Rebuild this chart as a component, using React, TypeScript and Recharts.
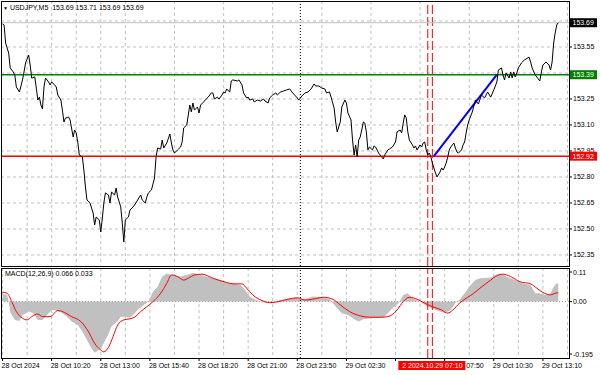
import React from 'react';
import { ComposedChart, Line, Area, XAxis, YAxis, CartesianGrid, ReferenceLine } from 'recharts';

// M5 bars counted from the first visible bar (28 Oct, left edge)
const priceSeries: [number, number][] = [
  [0, 153.683], [1, 153.677], [2, 153.573], [4, 153.515], [5, 153.429], [7, 153.406], [8, 153.388], [9, 153.319],
  [11, 153.29], [13, 153.36], [14, 153.406], [15, 153.458], [17, 153.504], [18, 153.446], [19, 153.371], [21, 153.377],
  [22, 153.313], [23, 153.244], [24, 153.261], [25, 153.215], [26, 153.192], [27, 153.319], [28, 153.371], [30, 153.348],
  [31, 153.331], [32, 153.348], [34, 153.331], [35, 153.319], [36, 153.273], [38, 153.244], [39, 153.186], [40, 153.117],
  [41, 153.14], [43, 153.146], [44, 153.129], [46, 153.031], [47, 153.071], [48, 153.054], [49, 153.002], [50, 152.927],
  [52, 152.915], [53, 152.84], [54, 152.742], [55, 152.667], [57, 152.65], [59, 152.592], [60, 152.523], [61, 152.569],
  [63, 152.552], [64, 152.483], [65, 152.563], [66, 152.65], [67, 152.708], [69, 152.696], [70, 152.65], [71, 152.713],
  [73, 152.696], [74, 152.736], [75, 152.684], [76, 152.656], [77, 152.627], [78, 152.534], [79, 152.425], [80, 152.552],
  [82, 152.569], [83, 152.609], [85, 152.627], [86, 152.638], [88, 152.667], [90, 152.696], [91, 152.667], [93, 152.65],
  [94, 152.684], [95, 152.708], [97, 152.725], [99, 152.794], [100, 152.915], [101, 152.967], [103, 152.961], [104, 153.013],
  [105, 152.967], [107, 152.996], [109, 153.048], [110, 152.996], [111, 152.956], [112, 152.938], [114, 152.956], [116, 152.973],
  [117, 153.002], [118, 153.083], [120, 153.1], [121, 153.158], [122, 153.215], [123, 153.175], [124, 153.227], [125, 153.186],
  [127, 153.204], [128, 153.169], [129, 153.215], [131, 153.233], [132, 153.244], [134, 153.261], [136, 153.285], [137, 153.285],
  [138, 153.25], [140, 153.261], [141, 153.25], [143, 153.273], [144, 153.29], [145, 153.285], [146, 153.308], [148, 153.29],
  [149, 153.354], [150, 153.36], [153, 153.354], [154, 153.36], [156, 153.331], [157, 153.285], [159, 153.256], [160, 153.261],
  [161, 153.244], [163, 153.25], [164, 153.233], [166, 153.244], [168, 153.238], [170, 153.25], [171, 153.238], [173, 153.227],
  [174, 153.256], [176, 153.273], [178, 153.285], [179, 153.273], [181, 153.29], [183, 153.296], [185, 153.302], [187, 153.308],
  [189, 153.285], [192, 153.256], [193, 153.244], [195, 153.267], [197, 153.285], [199, 153.29], [201, 153.308], [203, 153.337],
  [204, 153.325], [206, 153.325], [208, 153.313], [210, 153.308], [211, 153.285], [213, 153.29], [214, 153.261], [216, 153.198],
  [217, 153.117], [218, 153.06], [220, 153.117], [221, 153.204], [223, 153.244], [224, 153.227], [225, 153.169], [227, 153.129],
  [228, 153.013], [229, 152.927], [230, 152.985], [231, 152.915], [232, 153.013], [233, 153.031], [234, 153.071], [235, 153.117],
  [236, 153.111], [237, 153.06], [238, 152.956], [239, 152.973], [241, 152.956], [242, 152.979], [243, 152.973], [245, 152.938],
  [246, 152.927], [248, 152.904], [249, 152.927], [251, 152.956], [252, 152.961], [254, 152.973], [256, 153.002], [257, 153.06],
  [259, 153.071], [260, 153.054], [261, 153.111], [262, 153.158], [263, 153.14], [264, 153.06], [265, 153.013], [267, 152.985],
  [268, 152.967], [269, 152.979], [270, 152.956], [272, 152.985], [273, 152.973], [274, 152.996], [275, 153.002], [276, 152.956],
  [277, 152.927], [278, 152.938], [279, 152.915], [280, 152.881], [282, 152.823], [283, 152.8], [285, 152.829], [286, 152.852],
  [287, 152.84], [288, 152.858], [289, 152.881], [290, 152.915], [291, 152.956], [292, 152.973], [293, 152.985], [294, 152.996],
  [295, 152.967], [296, 152.944], [297, 152.938], [299, 152.956], [300, 152.985], [301, 153.002], [302, 153.054], [303, 153.1],
  [304, 153.129], [306, 153.175], [308, 153.244], [310, 153.221], [312, 153.273], [314, 153.256], [316, 153.29], [318, 153.261],
  [320, 153.302], [322, 153.348], [323, 153.417], [325, 153.429], [326, 153.388], [327, 153.36], [328, 153.4], [330, 153.371],
  [331, 153.406], [332, 153.371], [333, 153.406], [334, 153.377], [335, 153.4], [336, 153.429], [338, 153.458], [340, 153.475],
  [343, 153.492], [344, 153.463], [345, 153.429], [347, 153.388], [348, 153.377], [350, 153.354], [351, 153.406], [352, 153.446],
  [354, 153.463], [356, 153.446], [357, 153.417], [358, 153.463], [359, 153.573], [360, 153.631], [361, 153.677], [362, 153.69],
];

const macdHist: [number, number][] = [
  [0, 0.028], [3, 0.025], [4, 0], [5, -0.04], [8, -0.068], [11, -0.072], [13, -0.05], [17, -0.037], [20, -0.043],
  [23, -0.068], [26, -0.068], [29, -0.05], [32, -0.031], [35, -0.031], [39, -0.043], [42, -0.056], [45, -0.074],
  [49, -0.087], [52, -0.112], [55, -0.143], [58, -0.174], [60, -0.19], [64, -0.176], [67, -0.143], [69, -0.12],
  [71, -0.093], [75, -0.072], [77, -0.056], [80, -0.056], [83, -0.06], [85, -0.05], [88, -0.031], [92, -0.013],
  [95, 0], [98, 0.037], [101, 0.055], [104, 0.093], [107, 0.105], [111, 0.098], [116, 0.093], [120, 0.099],
  [124, 0.107], [129, 0.099], [133, 0.093], [137, 0.087], [142, 0.08], [146, 0.071], [150, 0.068], [155, 0.062],
  [158, 0.043], [161, 0.019], [164, 0.009], [169, -0.002], [174, -0.004], [181, 0.006], [187, 0.012], [192, 0.016],
  [196, 0.006], [202, 0.019], [209, 0.016], [213, 0.009], [218, -0.025], [221, -0.043], [225, -0.05], [230, -0.068],
  [232, -0.074], [235, -0.066], [240, -0.062], [244, -0.06], [248, -0.06], [251, -0.043], [254, -0.025], [258, -0.006],
  [261, 0.025], [264, 0.031], [267, 0.012], [270, 0.006], [273, -0.004], [277, -0.019], [281, -0.028], [285, -0.037],
  [288, -0.043], [292, -0.031], [295, -0.004], [298, 0.009], [301, 0.031], [305, 0.062], [308, 0.08], [311, 0.087],
  [318, 0.09], [321, 0.099], [324, 0.105], [327, 0.097], [331, 0.087], [335, 0.078], [339, 0.068], [344, 0.062],
  [347, 0.031], [350, 0.031], [353, 0.025], [357, 0.031], [359, 0.055], [361, 0.068], [362, 0.066],
];

const macdSignal: [number, number][] = [
  [0, 0.035], [3, 0.031], [6, 0], [9, -0.037], [13, -0.062], [16, -0.068], [19, -0.056], [23, -0.046], [26, -0.056],
  [31, -0.056], [36, -0.033], [39, -0.037], [45, -0.056], [51, -0.074], [56, -0.112], [60, -0.155], [64, -0.18],
  [66, -0.187], [69, -0.17], [72, -0.13], [75, -0.087], [79, -0.068], [83, -0.064], [86, -0.058], [90, -0.037],
  [94, -0.019], [98, 0], [103, 0.031], [107, 0.068], [110, 0.099], [114, 0.093], [118, 0.08], [121, 0.087],
  [125, 0.099], [130, 0.102], [137, 0.087], [146, 0.071], [150, 0.066], [156, 0.066], [159, 0.05], [163, 0.025],
  [169, 0.004], [174, -0.004], [180, 0], [186, 0.009], [192, 0.014], [197, 0.006], [202, 0.009], [209, 0.016],
  [215, 0.009], [220, -0.012], [226, -0.037], [233, -0.053], [239, -0.058], [246, -0.058], [251, -0.056], [257, -0.031],
  [261, 0], [265, 0.016], [270, 0.009], [275, -0.006], [280, -0.019], [286, -0.031], [290, -0.043], [293, -0.033],
  [298, -0.004], [303, 0.016], [307, 0.031], [311, 0.05], [318, 0.08], [321, 0.093], [326, 0.102], [331, 0.093],
  [337, 0.074], [344, 0.066], [348, 0.05], [352, 0.034], [357, 0.025], [360, 0.031], [362, 0.033],
];

// label at bar 256 is hidden under the marker tag in the source chart
const timeTickBars = [0, 32, 64, 96, 128, 160, 192, 224, 256, 288, 320, 352];
const timeTickLabels = [
  '28 Oct 2024', '28 Oct 10:20', '28 Oct 13:00', '28 Oct 15:40', '28 Oct 18:20', '28 Oct 21:00',
  '28 Oct 23:50', '29 Oct 02:30', '', '29 Oct 07:50', '29 Oct 10:30', '29 Oct 13:10',
];
const priceTicks = [153.7, 153.55, 153.4, 153.25, 153.1, 152.95, 152.8, 152.65, 152.5, 152.35];
const hiddenPriceTicks = [153.7, 153.4]; // covered by the price tags
const macdTicks = [0.11, 0, -0.195];
const macdTickLabels = ['0.11', '0.00', '-0.195'];

const lastPrice = 153.69;
const resistance = 153.39;
const support = 152.92;
const trendFrom = [281, 152.92];
const trendTo = [322, 153.39];
const markerBars = [277, 280];
const markerText = '2 2024.10.29 07:10';
const daySeparatorBar = 194;

const FONT = '"Liberation Sans", Arial, sans-serif';
const X_DOMAIN = [-1, 369];
const PRICE_DOMAIN = [152.2863, 153.8154];
const MACD_DOMAIN = [-0.2097, 0.125];

const priceData = priceSeries.map(([bar, price]) => ({ bar, price }));
const histData = macdHist.map(([bar, v]) => ({ bar, v }));
const signalData = macdSignal.map(([bar, v]) => ({ bar, v }));
const gridBars: number[] = [];
for (let b = 0; b <= 368; b += 16) gridBars.push(b);

const priceTag = (bg: string, text: string) => (props: any) => {
  const vb = props.viewBox || {};
  const x = vb.x + vb.width + 1;
  const y = vb.y;
  return (
    <g>
      <rect x={x} y={y - 4.5} width={27} height={9} fill={bg} />
      <text x={x + 2.5} y={y} dy="0.36em" fill="#fff" fontSize={7} fontFamily={FONT}>{text}</text>
    </g>
  );
};

const timeTag = (props: any) => {
  const vb = props.viewBox || {};
  const cx = vb.x;
  const top = vb.y + vb.height + 3;
  return (
    <g>
      <rect x={cx - 34} y={top} width={67} height={9} fill="#ff0000" />
      <text x={cx} y={top + 4.5} dy="0.36em" textAnchor="middle" fill="#fff" fontSize={7} fontFamily={FONT}>{markerText}</text>
    </g>
  );
};

const TimeTick = (props: any) => {
  const { x, y, payload } = props;
  const label = timeTickLabels[timeTickBars.indexOf(payload.value)];
  if (!label) return <g />;
  return (
    <text x={x - 1} y={y} dy="0.71em" textAnchor="start" fontSize={7} fontFamily={FONT} fill="#000">
      {label}
    </text>
  );
};

const axisTick = { fontSize: 7, fill: '#000', fontFamily: FONT };
const layer: React.CSSProperties = { position: 'absolute', left: 0 };

export default function App() {
  return (
    <div style={{ position: 'absolute', left: 0, top: 0, width: 600, height: 375, background: '#fff', overflow: 'hidden', fontFamily: FONT }}>
      <div style={{ ...layer, top: 0 }}>
        <ComposedChart width={600} height={267} margin={{ top: 1, right: 0, bottom: 1, left: 1 }}>
          <CartesianGrid stroke="#c0c0c0" strokeDasharray="3 3" verticalValues={gridBars} horizontalValues={priceTicks} />
          <XAxis type="number" dataKey="bar" domain={X_DOMAIN} allowDataOverflow ticks={gridBars} hide />
          <YAxis
            orientation="right"
            width={31}
            domain={PRICE_DOMAIN}
            allowDataOverflow
            ticks={priceTicks}
            interval={0}
            tickFormatter={(v: number) => (hiddenPriceTicks.includes(v) ? '' : v.toFixed(2))}
            tick={axisTick}
            tickSize={3}
            tickMargin={1}
            axisLine={false}
            tickLine={{ stroke: '#000' }}
          />
          <ReferenceLine x={daySeparatorBar} stroke="#000" strokeDasharray="1 2" />
          {markerBars.map((b) => (
            <ReferenceLine key={b} x={b} stroke="#ff0000" strokeDasharray="9 3" />
          ))}
          <ReferenceLine y={lastPrice} stroke="#c0c0c0" />
          <ReferenceLine y={resistance} stroke="#008000" strokeWidth={1.5} />
          <ReferenceLine y={support} stroke="#ff0000" strokeWidth={1.5} />
          <ReferenceLine
            segment={[{ x: trendFrom[0], y: trendFrom[1] }, { x: trendTo[0], y: trendTo[1] }]}
            stroke="#0000ff"
            strokeWidth={2}
          />
          <Line data={priceData} dataKey="price" type="linear" stroke="#000" strokeWidth={1} dot={false} isAnimationActive={false} />
        </ComposedChart>
      </div>

      {/* price tags drawn on a layer above the axis labels */}
      <div style={{ ...layer, top: 0 }}>
        <ComposedChart width={600} height={267} margin={{ top: 1, right: 31, bottom: 1, left: 1 }}>
          <XAxis type="number" dataKey="bar" domain={X_DOMAIN} allowDataOverflow hide />
          <YAxis domain={PRICE_DOMAIN} allowDataOverflow hide />
          <ReferenceLine y={lastPrice} stroke="none" label={priceTag('#000', lastPrice.toFixed(2))} />
          <ReferenceLine y={resistance} stroke="none" label={priceTag('#008000', resistance.toFixed(2))} />
          <ReferenceLine y={support} stroke="none" label={priceTag('#ff0000', support.toFixed(2))} />
        </ComposedChart>
      </div>

      <div style={{ ...layer, top: 267 }}>
        <ComposedChart width={600} height={108} margin={{ top: 1, right: 0, bottom: 0, left: 1 }}>
          <CartesianGrid stroke="#c0c0c0" strokeDasharray="3 3" horizontal={false} verticalValues={gridBars} />
          <XAxis
            type="number"
            dataKey="bar"
            domain={X_DOMAIN}
            allowDataOverflow
            ticks={timeTickBars}
            interval={0}
            height={17}
            tick={<TimeTick />}
            tickSize={3}
            tickMargin={2}
            axisLine={false}
            tickLine={{ stroke: '#000' }}
          />
          <YAxis
            orientation="right"
            width={31}
            domain={MACD_DOMAIN}
            allowDataOverflow
            ticks={macdTicks}
            interval={0}
            tickFormatter={(v: number) => macdTickLabels[macdTicks.indexOf(v)]}
            tick={axisTick}
            tickSize={3}
            tickMargin={1}
            axisLine={false}
            tickLine={{ stroke: '#000' }}
          />
          <Area data={histData} dataKey="v" type="linear" baseValue={0} fill="#c0c0c0" fillOpacity={1} stroke="none" dot={false} isAnimationActive={false} />
          <ReferenceLine y={0} stroke="#a0a0a0" strokeDasharray="1 2" />
          <ReferenceLine x={daySeparatorBar} stroke="#000" strokeDasharray="1 2" />
          <Line data={signalData} dataKey="v" type="monotone" stroke="#ff0000" strokeWidth={1} dot={false} isAnimationActive={false} />
          {markerBars.map((b) => (
            <ReferenceLine key={b} x={b} stroke="#ff0000" strokeDasharray="9 3" />
          ))}
        </ComposedChart>
      </div>

      {/* time tag of the marker line, above the time labels */}
      <div style={{ ...layer, top: 267 }}>
        <ComposedChart width={600} height={108} margin={{ top: 1, right: 31, bottom: 17, left: 1 }}>
          <XAxis type="number" dataKey="bar" domain={X_DOMAIN} allowDataOverflow hide />
          <YAxis domain={MACD_DOMAIN} allowDataOverflow hide />
          <ReferenceLine x={markerBars[markerBars.length - 1]} stroke="none" label={timeTag} />
        </ComposedChart>
      </div>

      {/* panel frames */}
      <div style={{ position: 'absolute', left: 1, top: 1, width: 569, height: 266, border: '1px solid #000', boxSizing: 'border-box', pointerEvents: 'none' }} />
      <div style={{ position: 'absolute', left: 1, top: 268, width: 569, height: 91, border: '1px solid #000', boxSizing: 'border-box', pointerEvents: 'none' }} />

      <div style={{ position: 'absolute', left: 3, top: 3, fontSize: 7, lineHeight: '9px', whiteSpace: 'pre', color: '#000' }}>
        <span style={{ fontSize: 5 }}>▼</span> USDJPY,M5  153.69 153.71 153.69 153.69
      </div>
      <div style={{ position: 'absolute', left: 5, top: 269, fontSize: 7, lineHeight: '9px', whiteSpace: 'pre', color: '#000' }}>
        MACD(12,26,9) 0.066 0.033
      </div>
    </div>
  );
}
